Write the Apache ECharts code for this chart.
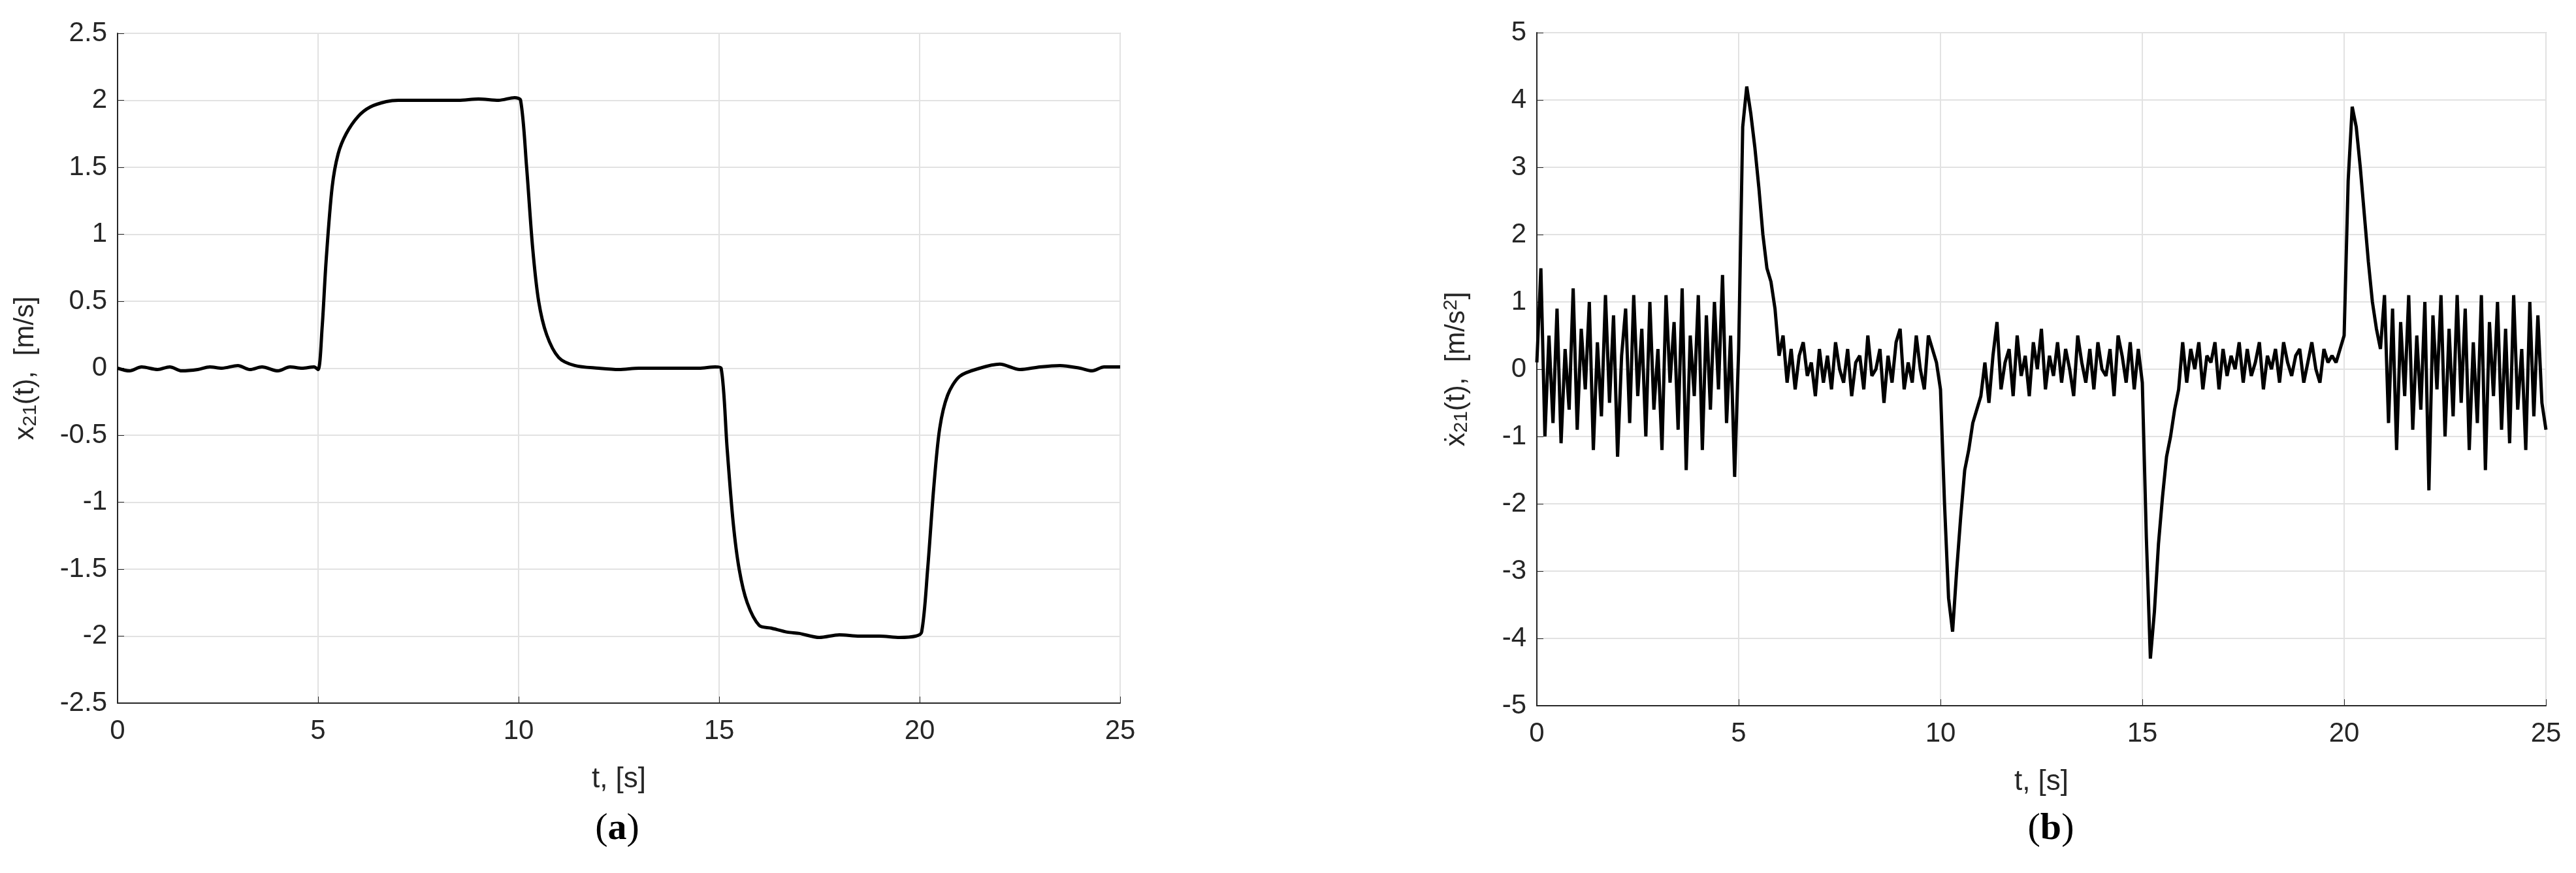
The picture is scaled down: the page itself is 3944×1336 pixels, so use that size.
<!DOCTYPE html>
<html>
<head>
<meta charset="utf-8">
<script src="https://cdn.jsdelivr.net/npm/echarts@6/dist/echarts.min.js"></script>
<style>html,body{margin:0;background:#fff}#main{width:3944px;height:1336px}</style>
</head>
<body>
<div id="main"></div>
<script>
// panel (a): velocity
var tA = [0,0.3,0.6,1,1.3,1.6,2,2.3,2.6,3,3.3,3.6,4,4.3,4.6,4.9,5.0,5.1,5.2,5.35,5.5,5.7,6,6.3,6.7,7,7.5,8,8.5,9,9.5,9.9,10.05,10.2,10.35,10.5,10.7,11,11.4,12,12.5,13,13.5,14,14.5,14.9,15.05,15.2,15.35,15.5,15.7,16,16.3,16.7,17,17.5,18,18.5,19,19.5,19.9,20.05,20.2,20.35,20.5,20.7,21,21.5,22,22.5,23,23.5,24,24.3,24.6,25];
var yA = [0,-0.02,0.01,-0.01,0.01,-0.02,-0.01,0.01,0,0.02,-0.01,0.01,-0.02,0.01,0,0.01,-0.01,0.3,0.8,1.35,1.6,1.75,1.88,1.95,1.99,2.0,2.0,2.0,2.0,2.01,2.0,2.02,2.0,1.5,0.9,0.5,0.25,0.08,0.02,0,-0.01,0,0,0,0,0.01,0,-0.6,-1.15,-1.5,-1.75,-1.92,-1.94,-1.97,-1.98,-2.01,-1.99,-2.0,-2.0,-2.01,-2.0,-1.97,-1.5,-0.9,-0.45,-0.2,-0.06,0,0.03,-0.01,0.01,0.02,0,-0.02,0.01,0.01];

// panel (b): acceleration, one value every 0.1 s from t = 0 to 25
var dtB = 0.1;
var yB = [
0.1,1.5,-1.0,0.5,-0.8,0.9,-1.1,0.3,-0.6,1.2,-0.9,0.6,-0.3,1.0,-1.2,0.4,-0.7,1.1,-0.5,0.8,-1.3,0.2,0.9,-0.8,1.1,-0.4,0.6,-1.0,1.0,-0.6,0.3,-1.2,1.1,-0.2,0.7,-0.9,1.2,-1.5,0.5,-0.4,1.1,-1.2,0.8,-0.6,1.0,-0.3,1.4,-0.8,0.5,-1.6,
0.3,3.6,4.2,3.8,3.3,2.7,2.0,1.5,1.3,0.9,
0.2,0.5,-0.2,0.3,-0.3,0.2,0.4,-0.1,0.1,-0.4,0.3,-0.2,0.2,-0.3,0.4,0.0,-0.2,0.3,-0.4,0.1,0.2,-0.3,0.5,-0.1,0.0,0.3,-0.5,0.2,-0.2,0.4,0.6,-0.3,0.1,-0.2,0.5,0.0,-0.3,0.5,0.3,0.1,
-0.3,-2.0,-3.4,-3.9,-3.0,-2.2,-1.5,-1.2,-0.8,-0.6,
-0.4,0.1,-0.5,0.2,0.7,-0.3,0.1,0.3,-0.4,0.5,-0.1,0.2,-0.4,0.4,0.0,0.6,-0.3,0.2,-0.1,0.4,-0.2,0.3,0.0,-0.4,0.5,0.1,-0.2,0.3,-0.3,0.4,0.0,-0.1,0.3,-0.4,0.5,0.2,-0.2,0.4,-0.3,0.3,
-0.2,-2.5,-4.3,-3.6,-2.6,-1.9,-1.3,-1.0,-0.6,-0.3,
0.4,-0.2,0.3,0.0,0.4,-0.3,0.2,0.1,0.4,-0.3,0.3,-0.1,0.2,0.0,0.4,-0.2,0.3,-0.1,0.1,0.4,-0.3,0.2,0.0,0.3,-0.2,0.4,0.1,-0.1,0.2,0.3,-0.2,0.1,0.4,0.0,-0.2,0.3,0.1,0.2,0.1,0.3,
0.5,2.8,3.9,3.6,3.0,2.3,1.6,1.0,0.6,0.3,
1.1,-0.8,0.9,-1.2,0.7,-0.4,1.1,-0.9,0.5,-0.6,1.0,-1.8,0.8,-0.3,1.1,-1.0,0.6,-0.7,1.1,-0.5,0.9,-1.2,0.4,-0.8,1.1,-1.5,0.7,-0.4,1.0,-0.9,0.6,-1.1,1.1,-0.6,0.3,-1.2,1.0,-0.7,0.8,-0.5,-0.9
];

var dataA = tA.map(function (t, i) { return [t, yA[i]]; });
var dataB = yB.map(function (v, i) { return [+(i * dtB).toFixed(2), v]; });

var font = 'Liberation Sans';
var tickCol = '#262626';
var rich = {
    a: {fontSize: 42, fontFamily: font, color: tickCol},
    s: {fontSize: 30, fontFamily: font, color: tickCol, verticalAlign: 'bottom', padding: [16, 0, 0, 0]},
    p: {fontSize: 30, fontFamily: font, color: tickCol, verticalAlign: 'top', padding: [0, 0, 16, 0]}
};

function xAx(idx) {
    return {
        type: 'value', gridIndex: idx, min: 0, max: 25, interval: 5,
        name: 't, [s]', nameLocation: 'middle', nameGap: 95,
        nameTextStyle: {fontSize: 44, fontFamily: font, color: tickCol},
        axisLine: {onZero: false, lineStyle: {color: tickCol, width: 2}},
        axisTick: {inside: true, length: 10, lineStyle: {color: tickCol}},
        axisLabel: {fontSize: 42, fontFamily: font, color: tickCol, margin: 22},
        splitLine: {lineStyle: {color: '#e2e2e2', width: 2}}
    };
}
function yAx(idx, min, max, itv, name, gap) {
    return {
        type: 'value', gridIndex: idx, min: min, max: max, interval: itv,
        name: name, nameLocation: 'middle', nameRotate: 90, nameGap: gap,
        nameTextStyle: {rich: rich},
        axisLine: {show: true, onZero: false, lineStyle: {color: tickCol, width: 2}},
        axisTick: {show: true, inside: true, length: 10, lineStyle: {color: tickCol}},
        axisLabel: {fontSize: 42, fontFamily: font, color: tickCol, margin: 16},
        splitLine: {lineStyle: {color: '#e2e2e2', width: 2}}
    };
}

var capStyle = {fontSize: 58, fontFamily: 'Liberation Serif', fontWeight: 'normal', color: '#000',
                rich: {b: {fontSize: 58, fontFamily: 'Liberation Serif', fontWeight: 'bold', color: '#000'}}};

var chart = echarts.init(document.getElementById('main'));
chart.setOption({
    backgroundColor: '#fff',
    animation: false,
    grid: [
        {left: 180, width: 1535, top: 51, height: 1025, show: true, borderColor: '#cfcfcf', borderWidth: 2},
        {left: 2353, width: 1545, top: 50, height: 1030, show: true, borderColor: '#cfcfcf', borderWidth: 2}
    ],
    title: [
        {left: 940, top: 1235, textAlign: 'center', textStyle: capStyle, text: '({b|a})'},
        {left: 3135, top: 1235, textAlign: 'center', textStyle: capStyle, text: '({b|b})'}
    ],
    xAxis: [xAx(0), xAx(1)],
    yAxis: [
        yAx(0, -2.5, 2.5, 0.5, '{a|x}{s|21}{a|(t),  [m/s]}', 118),
        yAx(1, -5, 5, 1, '{a|\u1E8B}{s|21}{a|(t),  [m/s}{p|2}{a|]}', 100)
    ],
    series: [
        {type: 'line', xAxisIndex: 0, yAxisIndex: 0, data: dataA, showSymbol: false, smooth: 0.3,
         lineStyle: {color: '#000', width: 5}},
        {type: 'line', xAxisIndex: 1, yAxisIndex: 1, data: dataB, showSymbol: false,
         lineStyle: {color: '#000', width: 5}}
    ]
});
</script>
</body>
</html>
